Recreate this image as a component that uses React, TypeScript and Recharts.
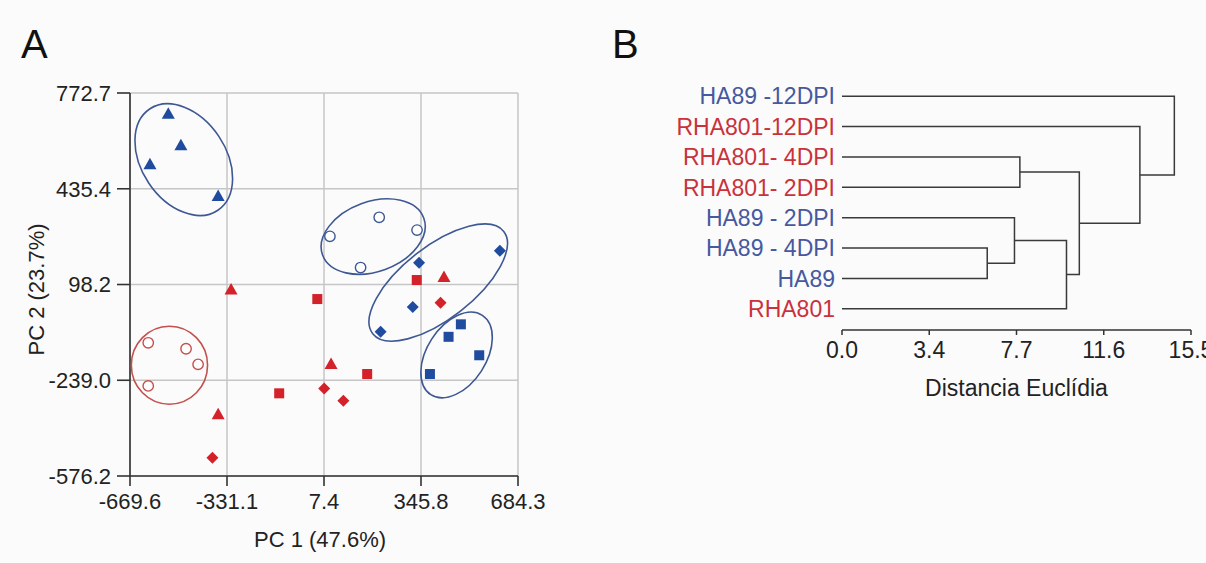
import React from "react";
import { ScatterChart, Scatter, ComposedChart, Line, XAxis, YAxis, CartesianGrid, Label } from "recharts";

// Panel A: PCA scores (PC1, PC2), one list per genotype and marker.
const ha89Triangle = [[-536, 700], [-492, 589], [-600, 522], [-362, 410]];
const ha89Circle = [[28, 268], [200, 335], [332, 290], [135, 158]];
const ha89Diamond = [[339, 175], [621, 217], [317, 19], [205, -68]];
const ha89Square = [[485, -42], [442, -86], [549, -151], [377, -217]];
const rhaCircle = [[-606, -107], [-474, -128], [-432, -183], [-606, -259]];
const rhaTriangle = [[-317, 81], [-362, -359], [32, -182], [426, 125]];
const rhaSquare = [[-149, -285], [-16, 47], [158, -217], [331, 114]];
const rhaDiamond = [[-382, -512], [8, -268], [75, -311], [414, 34]];

// cluster outlines: centre and semi-axes in PC units, tilt in degrees (screen, clockwise)
const pcaClusters = [
  { group: "HA89", x: -482, y: 538, rx: 213, ry: 147, angle: 56 },
  { group: "HA89", x: 179, y: 267, rx: 188, ry: 122, angle: -20 },
  { group: "HA89", x: 406, y: 105, rx: 290, ry: 126, angle: -38 },
  { group: "HA89", x: 470, y: -150, rx: 165, ry: 103, angle: -57 },
  { group: "RHA801", x: -532, y: -186, rx: 133, ry: 136, angle: 0 },
];

const pcXTicks = [-669.6, -331.1, 7.4, 345.8, 684.3];
const pcYTicks = [-576.2, -239.0, 98.2, 435.4, 772.7];

// Panel B: dendrogram leaves (top to bottom) and merges; "L" = leaf index, "M" = earlier merge
const leaves = ["HA89 -12DPI", "RHA801-12DPI", "RHA801- 4DPI", "RHA801- 2DPI", "HA89 - 2DPI", "HA89 - 4DPI", "HA89", "RHA801"];
const merges = [
  { a: "L5", b: "L6", h: 6.45 },
  { a: "L4", b: "M0", h: 7.66 },
  { a: "M1", b: "L7", h: 9.97 },
  { a: "L2", b: "L3", h: 7.9 },
  { a: "M3", b: "M2", h: 10.54 },
  { a: "L1", b: "M4", h: 13.23 },
  { a: "L0", b: "M5", h: 14.76 },
];
const distTickPos = [0, 3.875, 7.75, 11.625, 15.5];
const distTickLabels = ["0.0", "3.4", "7.7", "11.6", "15.5"];

const FONT = "'Liberation Sans', Arial, sans-serif";
const BLUE = "#1f4c9e";
const RED = "#d3222a";
const BLUE_LINE = "#3e5894";
const RED_LINE = "#c4504c";
const BLUE_TEXT = "#46589f";
const RED_TEXT = "#c9323b";
const INK = "#222";

// panel A geometry
const A_W = 560;
const A_H = 563;
const A_TOP = 93;
const A_RIGHT = 42;
const A_YAXIS_W = 130;
const A_XAXIS_H = 87;
const PX_PER_UNIT = (A_W - A_RIGHT - A_YAXIS_W) / (pcXTicks[4] - pcXTicks[0]);

const toPoints = (arr: number[][]) => arr.map(([x, y]) => ({ x, y }));

function marker(kind: string, color: string) {
  return (p: any) => {
    const { cx, cy } = p;
    if (kind === "triangle")
      return <polygon points={`${cx},${cy - 6.5} ${cx - 6.5},${cy + 5} ${cx + 6.5},${cy + 5}`} fill={color} />;
    if (kind === "square") return <rect x={cx - 5} y={cy - 5} width={10} height={10} fill={color} />;
    if (kind === "diamond")
      return <polygon points={`${cx},${cy - 6} ${cx + 6},${cy} ${cx},${cy + 6} ${cx - 6},${cy}`} fill={color} />;
    return <circle cx={cx} cy={cy} r={5.2} fill="#fff" stroke={color} strokeWidth={1.4} />;
  };
}

function ClusterEllipse(p: any) {
  const { cx, cy, payload } = p;
  const stroke = payload.group === "HA89" ? BLUE_LINE : RED_LINE;
  return (
    <ellipse
      cx={cx}
      cy={cy}
      rx={payload.rx * PX_PER_UNIT}
      ry={payload.ry * PX_PER_UNIT}
      transform={`rotate(${payload.angle} ${cx} ${cy})`}
      fill="none"
      stroke={stroke}
      strokeWidth={1.6}
    />
  );
}

function PcaPanel() {
  const series = [
    { key: "ha89-tri", data: ha89Triangle, kind: "triangle", color: BLUE },
    { key: "ha89-circ", data: ha89Circle, kind: "circle", color: BLUE_LINE },
    { key: "ha89-dia", data: ha89Diamond, kind: "diamond", color: BLUE },
    { key: "ha89-sq", data: ha89Square, kind: "square", color: BLUE },
    { key: "rha-circ", data: rhaCircle, kind: "circle", color: RED_LINE },
    { key: "rha-tri", data: rhaTriangle, kind: "triangle", color: RED },
    { key: "rha-sq", data: rhaSquare, kind: "square", color: RED },
    { key: "rha-dia", data: rhaDiamond, kind: "diamond", color: RED },
  ];
  const tick = { fontSize: 22, fill: INK, fontFamily: FONT };
  return (
    <ScatterChart width={A_W} height={A_H} margin={{ top: A_TOP, right: A_RIGHT, bottom: 0, left: 0 }}>
      <CartesianGrid stroke="#c6c6c6" strokeWidth={1.5} />
      <XAxis
        type="number"
        dataKey="x"
        domain={[pcXTicks[0], pcXTicks[4]]}
        ticks={pcXTicks}
        interval={0}
        tickFormatter={(v: number) => v.toFixed(1)}
        height={A_XAXIS_H}
        tick={tick}
        tickSize={10}
        tickMargin={7}
        axisLine={{ stroke: "#333", strokeWidth: 1.6 }}
        tickLine={{ stroke: "#333", strokeWidth: 1.6 }}
      >
        <Label
          content={(props: any) => {
            const vb = props.viewBox ?? { x: 130, y: 476, width: 388, height: 87 };
            return (
              <text x={vb.x + vb.width / 2 - 4} y={vb.y + 71} textAnchor="middle" fontSize={22} fill={INK} fontFamily={FONT}>
                PC 1 (47.6%)
              </text>
            );
          }}
        />
      </XAxis>
      <YAxis
        type="number"
        dataKey="y"
        domain={[pcYTicks[0], pcYTicks[4]]}
        ticks={pcYTicks}
        interval={0}
        tickFormatter={(v: number) => v.toFixed(1)}
        width={A_YAXIS_W}
        tick={tick}
        tickSize={13}
        tickMargin={6}
        axisLine={{ stroke: "#333", strokeWidth: 1.6 }}
        tickLine={{ stroke: "#333", strokeWidth: 1.6 }}
      >
        <Label
          content={(props: any) => {
            const vb = props.viewBox ?? { x: 0, y: 93, width: 130, height: 383 };
            const cx = vb.x + 36;
            const cy = vb.y + vb.height / 2 + 5;
            return (
              <text
                x={cx}
                y={cy}
                transform={`rotate(-90 ${cx} ${cy})`}
                textAnchor="middle"
                dominantBaseline="central"
                fontSize={22}
                fill={INK}
                fontFamily={FONT}
              >
                PC 2 (23.7%)
              </text>
            );
          }}
        />
      </YAxis>
      <Scatter data={pcaClusters} shape={ClusterEllipse} isAnimationActive={false} />
      {series.map((s) => (
        <Scatter key={s.key} data={toPoints(s.data)} shape={marker(s.kind, s.color)} isAnimationActive={false} />
      ))}
    </ScatterChart>
  );
}

// node position (height, row) for a leaf "Li" or merge "Mk"
function nodePos(id: string): { h: number; y: number } {
  const idx = Number(id.slice(1));
  if (id[0] === "L") return { h: 0, y: idx };
  const m = merges[idx];
  const a = nodePos(m.a);
  const b = nodePos(m.b);
  return { h: m.h, y: (a.y + b.y) / 2 };
}

function LeafTick(p: any) {
  const { x, y, payload } = p;
  const name = leaves[payload.value];
  if (name === undefined) return null;
  const color = name.startsWith("HA89") ? BLUE_TEXT : RED_TEXT;
  return (
    <text x={x} y={y} dy="0.36em" textAnchor="end" fontSize={23} fill={color} fontFamily={FONT}>
      {name}
    </text>
  );
}

function DendrogramPanel() {
  const links = merges.map((m) => {
    const a = nodePos(m.a);
    const b = nodePos(m.b);
    return [
      { x: a.h, y: a.y },
      { x: m.h, y: a.y },
      { x: m.h, y: b.y },
      { x: b.h, y: b.y },
    ];
  });
  return (
    <ComposedChart width={606} height={420} margin={{ top: 81, right: 15, bottom: 0, left: 0 }}>
      <XAxis
        type="number"
        dataKey="x"
        domain={[0, 15.5]}
        ticks={distTickPos}
        interval={0}
        tickFormatter={(_v: number, i: number) => distTickLabels[i]}
        height={90}
        tick={{ fontSize: 23, fill: INK, fontFamily: FONT }}
        tickSize={5}
        tickMargin={7}
        axisLine={{ stroke: "#333", strokeWidth: 1.5 }}
        tickLine={{ stroke: "#333", strokeWidth: 1.5 }}
      >
        <Label
          content={(props: any) => {
            const vb = props.viewBox ?? { x: 242, y: 330, width: 349, height: 90 };
            return (
              <text x={vb.x + vb.width / 2} y={vb.y + 66} textAnchor="middle" fontSize={23} fill={INK} fontFamily={FONT}>
                Distancia Euclídia
              </text>
            );
          }}
        />
      </XAxis>
      <YAxis
        type="number"
        dataKey="y"
        domain={[-0.5, 7.7]}
        reversed
        ticks={leaves.map((_, i) => i)}
        interval={0}
        width={242}
        tick={LeafTick}
        tickSize={0}
        tickMargin={7}
        tickLine={false}
        axisLine={false}
      />
      {links.map((d, i) => (
        <Line
          key={i}
          data={d}
          dataKey="y"
          type="linear"
          stroke="#3a3a3a"
          strokeWidth={1.5}
          dot={false}
          activeDot={false}
          isAnimationActive={false}
        />
      ))}
    </ComposedChart>
  );
}

export default function App() {
  return (
    <div style={{ position: "absolute", left: 0, top: 0, width: 1206, height: 563, background: "#fbfbfb", fontFamily: FONT, overflow: "hidden" }}>
      <div style={{ position: "absolute", left: 0, top: 0 }}>
        <PcaPanel />
      </div>
      <div style={{ position: "absolute", left: 600, top: 0 }}>
        <DendrogramPanel />
      </div>
      <svg width={1206} height={563} style={{ position: "absolute", left: 0, top: 0, pointerEvents: "none" }}>
        <text x={21} y={58} fontSize={40} fill="#111" fontFamily={FONT}>A</text>
        <text x={612} y={58} fontSize={40} fill="#111" fontFamily={FONT}>B</text>
      </svg>
    </div>
  );
}
